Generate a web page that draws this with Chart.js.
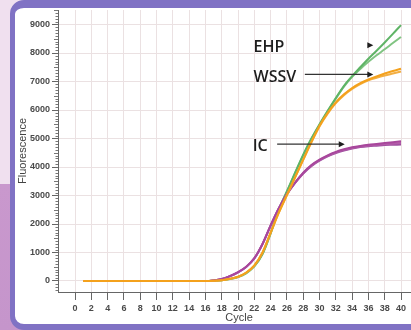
<!DOCTYPE html>
<html><head><meta charset="utf-8">
<script src="https://cdn.jsdelivr.net/npm/chart.js@4"></script>
<style>
html,body{margin:0;padding:0;width:411px;height:330px;overflow:hidden;}
body{position:relative;background:linear-gradient(#f0e0ef 0,#f0e0ef 184px,#c998cd 184px,#c595cb 330px);}
#frame{position:absolute;left:10px;top:0;width:440px;height:330px;box-sizing:border-box;border-style:solid;border-color:#8072c4;border-width:8px 6px 6px 5px;border-radius:14px;background:#fff;}
#wrap{position:absolute;left:0;top:0;width:420px;height:330px;}
</style></head>
<body>
<div id="frame"></div>
<div id="wrap"><canvas id="c" width="420" height="330"></canvas></div>
<script>
// ---- data ----
const cycles = [1,2,3,4,5,6,7,8,9,10,11,12,13,14,15,16,17,18,19,20,21,22,23,24,25,26,27,28,29,30,31,32,33,34,35,36,37,38,39,40];
const ehpA  = [0,0,0,0,0,0,0,0,0,0,0,0,0,0,0,0,10,30,70,140,280,520,950,1680,2500,3150,3800,4430,5000,5500,5970,6420,6850,7190,7500,7800,8080,8370,8670,8980];
const ehpB  = [0,0,0,0,0,0,0,0,0,0,0,0,0,0,0,0,10,30,70,140,270,510,940,1660,2480,3130,3780,4410,4980,5480,5950,6400,6820,7160,7440,7690,7920,8130,8350,8560];
const wssvA = [0,0,0,0,0,0,0,0,0,0,0,0,0,0,0,0,10,30,80,150,300,550,1000,1700,2400,3020,3640,4260,4880,5450,5900,6270,6550,6770,6940,7070,7180,7280,7370,7450];
const wssvB = [0,0,0,0,0,0,0,0,0,0,0,0,0,0,0,0,10,30,75,145,290,540,990,1690,2390,3010,3630,4250,4860,5420,5870,6240,6520,6740,6910,7040,7130,7210,7280,7350];
const icA   = [0,0,0,0,0,0,0,0,0,0,0,0,0,0,0,0,20,70,170,310,500,800,1300,1950,2550,3050,3450,3800,4070,4260,4410,4530,4620,4690,4740,4780,4810,4840,4870,4900];
const icB   = [0,0,0,0,0,0,0,0,0,0,0,0,0,0,0,0,20,65,165,300,490,790,1290,1940,2540,3040,3440,3780,4050,4240,4390,4510,4600,4670,4720,4750,4780,4800,4820,4840];
const icC   = [0,0,0,0,0,0,0,0,0,0,0,0,0,0,0,0,20,70,170,305,495,795,1295,1945,2545,3045,3440,3770,4030,4220,4370,4490,4580,4650,4700,4730,4750,4770,4780,4790];
const xTicks = [0,2,4,6,8,10,12,14,16,18,20,22,24,26,28,30,32,34,36,38,40];
const yTicks = [0,1000,2000,3000,4000,5000,6000,7000,8000,9000];
const notes = ['EHP','WSSV','IC'];

const pts = arr => cycles.map((c,i)=>({x:c,y:arr[i]}));
const ds = (arr,color) => ({data:pts(arr),borderColor:color,borderWidth:2,pointRadius:0,fill:false,cubicInterpolationMode:'monotone'});

// annotation placement (data units)
const noteCfg = [
  {text:notes[0], tx:21.9, ty:8180, arrow:[36.0,36.6], ay:8270, headOnly:true},
  {text:notes[1], tx:21.9, ty:7130, arrow:[28.2,36.6], ay:7250},
  {text:notes[2], tx:21.8, ty:4720, arrow:[24.8,33.1], ay:4800}
];

const minorTicks = {
  id:'minorTicks',
  afterDraw(chart){
    const y = chart.scales.y, ctx = chart.ctx, top = chart.chartArea.top, bottom = chart.chartArea.bottom;
    ctx.save(); ctx.strokeStyle='#777'; ctx.lineWidth=1;
    for(let v=-300; v<=9500; v+=100){
      if(v%1000===0) continue;
      const p = Math.round(y.getPixelForValue(v))+0.5;
      if(p<top||p>bottom) continue;
      const len = (v%500===0)?4:2.5;
      ctx.beginPath(); ctx.moveTo(y.right-len,p); ctx.lineTo(y.right,p); ctx.stroke();
    }
    ctx.restore();
  }
};
const notesPlugin = {
  id:'notes',
  afterDatasetsDraw(chart){
    const x = chart.scales.x, y = chart.scales.y, ctx = chart.ctx;
    ctx.save();
    ctx.font = '600 16px "Open Sans"'; ctx.fillStyle='#1e1e1e'; ctx.textBaseline='middle'; ctx.textAlign='left';
    noteCfg.forEach(n=>{
      ctx.fillText(n.text, x.getPixelForValue(n.tx), y.getPixelForValue(n.ty));
      const x1 = x.getPixelForValue(n.arrow[0]), x2 = x.getPixelForValue(n.arrow[1]), ay = y.getPixelForValue(n.ay);
      ctx.strokeStyle='#333'; ctx.lineWidth=1.3;
      if(!n.headOnly){ ctx.beginPath(); ctx.moveTo(x1,ay); ctx.lineTo(x2-5,ay); ctx.stroke(); }
      ctx.fillStyle='#1e1e1e';
      ctx.beginPath(); ctx.moveTo(x2,ay); ctx.lineTo(x2-6,ay-3); ctx.lineTo(x2-6,ay+3); ctx.closePath(); ctx.fill();
    });
    ctx.restore();
  }
};

new Chart(document.getElementById('c'), {
  type:'line',
  data:{datasets:[
    ds(wssvA,'#f4a11c'), ds(wssvB,'#f2ae42'),
    ds(icA,'#a8479c'), ds(icB,'#b35ba9'), ds(icC,'#9d4f9f'),
    ds(ehpA,'#5fb466'), ds(ehpB,'#80c482')
  ]},
  options:{
    responsive:false, animation:false, devicePixelRatio:1,
    layout:{padding:{left:0,right:0,top:10,bottom:0}},
    plugins:{legend:{display:false},tooltip:{enabled:false}},
    scales:{
      x:{type:'linear', min:-2.09, max:42.33,
        afterBuildTicks:s=>{s.ticks = xTicks.map(v=>({value:v}));},
        afterFit:s=>{s.height=38;},
        grid:{color:'#ebe1e2', lineWidth:1, tickLength:8, tickColor:'#666'},
        border:{color:'#666', width:1},
        ticks:{font:{family:'Liberation Sans',size:9,weight:'bold'}, color:'#4a4a4a', padding:3, maxRotation:0, autoSkip:false, callback:v=>String(v)},
        title:{display:true, text:'Cycle', font:{family:'Liberation Sans',size:11}, color:'#444', padding:{top:0,bottom:5}}
      },
      y:{min:-386, max:9509,
        afterBuildTicks:s=>{s.ticks = yTicks.map(v=>({value:v}));},
        afterFit:s=>{s.width=58;},
        grid:{color:'#ebe1e2', lineWidth:1, tickLength:6, tickColor:'#666'},
        border:{color:'#666', width:1},
        ticks:{font:{family:'Liberation Sans',size:9,weight:'bold'}, color:'#4a4a4a', padding:2, callback:v=>String(v)},
        title:{display:true, text:'Fluorescence', font:{family:'Liberation Sans',size:11}, color:'#444', padding:{top:16,bottom:0}}
      }
    }
  },
  plugins:[minorTicks, notesPlugin]
});
</script>
</body></html>
